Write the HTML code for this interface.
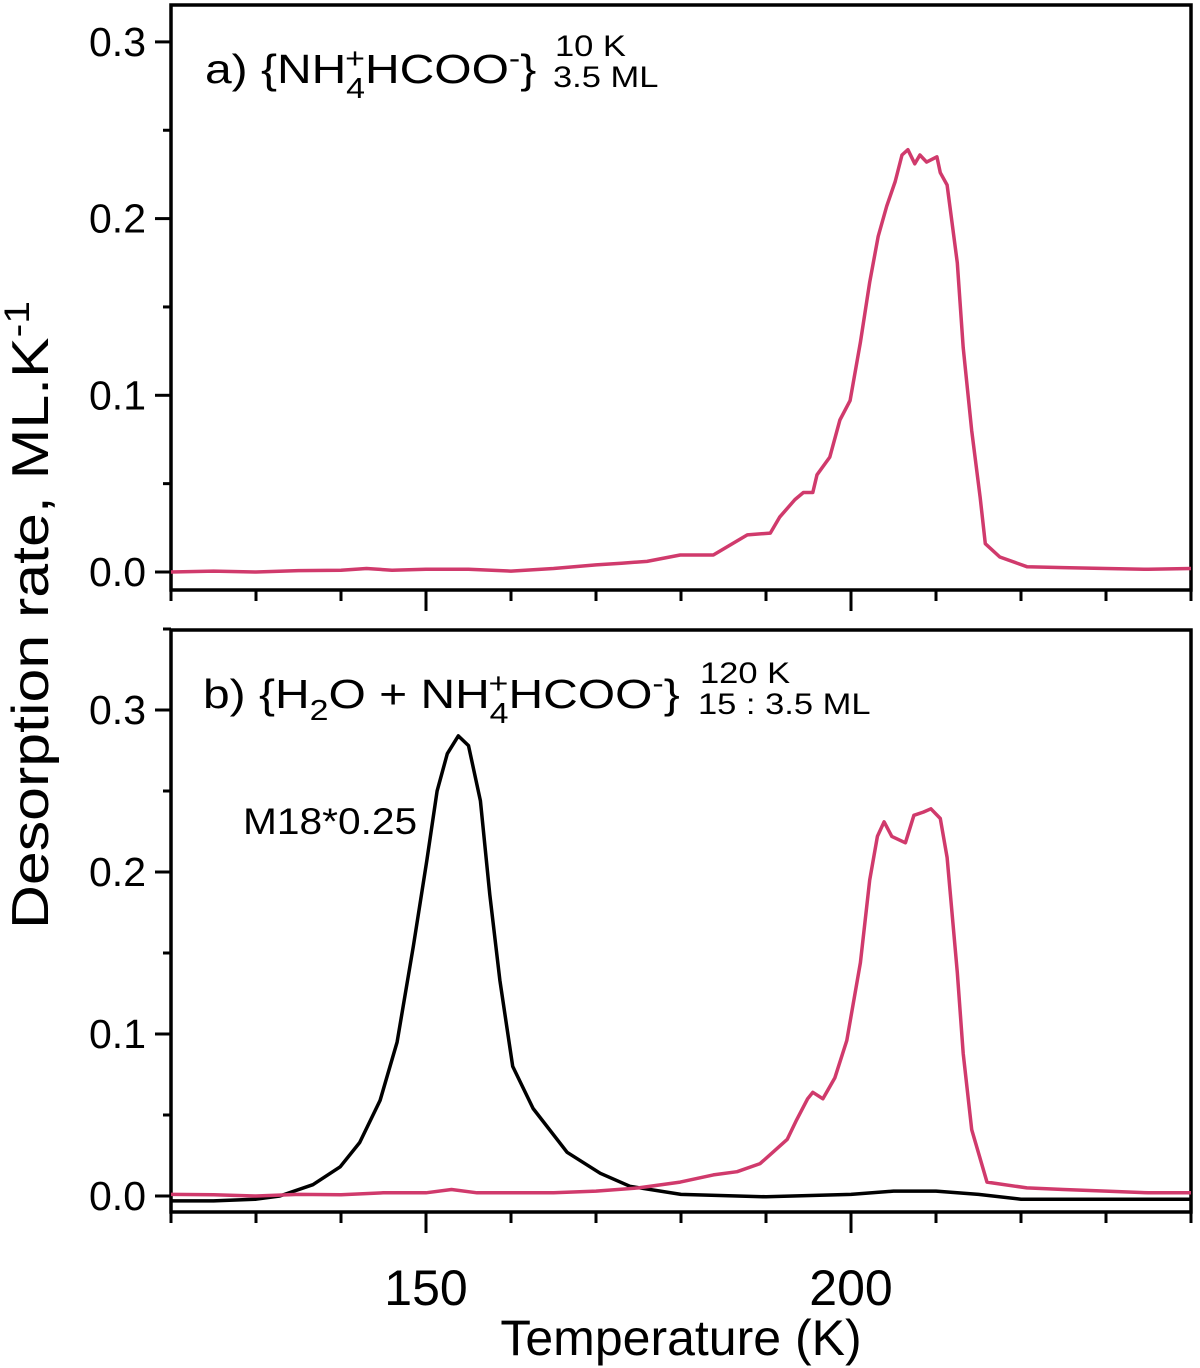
<!DOCTYPE html>
<html><head><meta charset="utf-8">
<style>
html,body{margin:0;padding:0;background:#fff;}
svg{display:block;font-family:"Liberation Sans",Arial,sans-serif;}
</style></head>
<body>
<svg id="chart" width="1200" height="1368" viewBox="0 0 1200 1368" xmlns="http://www.w3.org/2000/svg"></svg>
<script>
// ---- data ----
const xTicksMajor = [150, 200];
const xTicksMinor = [120,130,140,160,170,180,190,210,220,230,240];
const xTickLabels = ["150", "200"];
const yTicksMajorA = [0.0, 0.1, 0.2, 0.3];
const yTickLabelsA = ["0.0", "0.1", "0.2", "0.3"];
const yTicksMinorA = [0.05, 0.15, 0.25];
const yTicksMajorB = [0.0, 0.1, 0.2, 0.3];
const yTickLabelsB = ["0.0", "0.1", "0.2", "0.3"];
const yTicksMinorB = [0.05, 0.15, 0.25, 0.35];

const tempA = [120,125,130,135,140,143,146,150,155,160,165,170,173,176,179.9,183.8,187.8,190.5,191.6,193.4,194.4,195.5,196.0,197.5,198.7,199.9,201.1,202.2,203.2,204.2,205.2,206.0,206.7,207.5,208.1,208.9,210.1,210.5,211.3,212.5,213.2,214.2,215.2,215.8,217.5,220.7,225,230,235,240];
const rateA = [0.0,0.0005,0.0,0.0008,0.001,0.002,0.001,0.0015,0.0015,0.0005,0.002,0.004,0.005,0.006,0.0096,0.0096,0.021,0.022,0.031,0.041,0.045,0.045,0.055,0.065,0.086,0.097,0.130,0.164,0.190,0.207,0.221,0.236,0.239,0.231,0.236,0.232,0.235,0.226,0.219,0.175,0.127,0.080,0.042,0.016,0.0085,0.003,0.0025,0.002,0.0015,0.002];

const tempBpink = [120,125,130,135,140,145,150,153,156,160,165,170,175,179.9,183.8,186.6,189.3,190.8,192.5,193.6,194.9,195.5,196.7,198.1,199.5,201.1,202.2,203.1,203.9,204.8,206.4,207.4,208.5,209.4,210.5,211.3,212.5,213.2,214.2,216.0,220.7,225,230,235,240];
const rateBpink = [0.001,0.0008,0.0,0.001,0.0008,0.002,0.002,0.004,0.002,0.002,0.002,0.003,0.005,0.0086,0.013,0.015,0.020,0.027,0.035,0.047,0.060,0.064,0.060,0.073,0.096,0.144,0.195,0.222,0.231,0.222,0.218,0.235,0.237,0.239,0.233,0.209,0.138,0.088,0.041,0.0086,0.005,0.004,0.003,0.002,0.002];

const tempBblack = [120,125,130,132.8,136.7,139.9,142.2,144.6,146.6,148.5,150.1,151.3,152.5,153.8,155.0,156.4,157.5,158.7,160.2,162.6,166.6,170.5,174.0,180,190,200,205,210,215,220,230,240];
const rateBblack = [-0.003,-0.003,-0.002,0.0,0.007,0.018,0.033,0.059,0.095,0.154,0.207,0.250,0.273,0.284,0.278,0.244,0.186,0.133,0.080,0.054,0.027,0.014,0.006,0.001,-0.0005,0.001,0.003,0.003,0.001,-0.002,-0.002,-0.002];

// ---- layout ----
const NS = "http://www.w3.org/2000/svg";
const svg = document.getElementById("chart");
const X0 = 171, X1 = 1191, TMIN = 120, TMAX = 240;
function xs(t){ return X0 + (t - TMIN) * (X1 - X0) / (TMAX - TMIN); }
const panA = {top:5, bottom:590, y0:572, k:1767};
const panB = {top:630, bottom:1212, y0:1196, k:1620};
function ysA(v){ return panA.y0 - v * panA.k; }
function ysB(v){ return panB.y0 - v * panB.k; }

function el(tag, attrs, parent){
  const e = document.createElementNS(NS, tag);
  for (const k in attrs) e.setAttribute(k, attrs[k]);
  (parent || svg).appendChild(e);
  return e;
}

function drawPanel(p, ys, majors, labels, minors, name){
  const g = el("g", {});
  
  
  const frame = el("rect", {x:X0, y:p.top, width:X1-X0, height:p.bottom-p.top, fill:"none", stroke:"#000", "stroke-width":3.5}, g);
  
  
  majors.forEach((v,i) => {
    const y = ys(v);
    const t = el("line", {x1:X0-16, x2:X0, y1:y, y2:y, stroke:"#000", "stroke-width":3}, g);
    
    
    const tx = el("text", {x:146, y:y+14, "text-anchor":"end", "font-size":41, fill:"#000"}, g);
    tx.textContent = labels[i];
    
    
  });
  minors.forEach(v => {
    const y = ys(v);
    const t = el("line", {x1:X0-8, x2:X0, y1:y, y2:y, stroke:"#000", "stroke-width":3}, g);
    
    
  });
  xTicksMajor.forEach(t => {
    const l = el("line", {x1:xs(t), x2:xs(t), y1:p.bottom, y2:p.bottom+21, stroke:"#000", "stroke-width":3}, g);
    
    
  });
  xTicksMinor.forEach(t => {
    const l = el("line", {x1:xs(t), x2:xs(t), y1:p.bottom, y2:p.bottom+11, stroke:"#000", "stroke-width":3}, g);
    
    
  });
  return g;
}

function drawLine(ts, vs, ys, color, name){
  const d = ts.map((t,i) => (i? "L":"M") + xs(t).toFixed(1) + "," + ys(vs[i]).toFixed(1)).join(" ");
  const p = el("path", {d:d, fill:"none", stroke:color, "stroke-width":3.5, "stroke-linejoin":"round"});
  
  
}

drawPanel(panA, ysA, yTicksMajorA, yTickLabelsA, yTicksMinorA, 'panel-a');
drawPanel(panB, ysB, yTicksMajorB, yTickLabelsB, yTicksMinorB, 'panel-b');
drawLine(tempA, rateA, ysA, "#d03a6c", 'series-a-formate');
drawLine(tempBblack, rateBblack, ysB, "#000", 'series-b-water-m18');
drawLine(tempBpink, rateBpink, ysB, "#d03a6c", 'series-b-formate');

xTicksMajor.forEach((t,i) => {
  const tx = el("text", {x:xs(t), y:1305, "text-anchor":"middle", "font-size":50, fill:"#000"});
  tx.textContent = xTickLabels[i];
  
  
});
</script>
<svg style="position:absolute;left:0;top:0" width="1200" height="1368" font-family="Liberation Sans, Arial, sans-serif">
  <g transform="translate(205,83) scale(1.17,1)">
    <text x="0" y="0" font-size="41">a) {NH<tspan font-size="29" dy="-15" dx="-1">+</tspan><tspan font-size="29" dy="30" dx="-16">4</tspan><tspan dy="-15">HCOO</tspan><tspan font-size="29" dy="-15">-</tspan><tspan dy="15">}</tspan></text>
  </g>
  <g transform="translate(555,56) scale(1.15,1)">
    <text x="0" y="0" font-size="30">10 K</text>
  </g>
  <g transform="translate(553,87) scale(1.15,1)">
    <text x="0" y="0" font-size="30">3.5 ML</text>
  </g>
  <g transform="translate(203,708) scale(1.17,1)">
    <text x="0" y="0" font-size="41">b) {H<tspan font-size="29" dy="12">2</tspan><tspan dy="-12">O + NH</tspan><tspan font-size="29" dy="-15" dx="-1">+</tspan><tspan font-size="29" dy="30" dx="-16">4</tspan><tspan dy="-15">HCOO</tspan><tspan font-size="29" dy="-15">-</tspan><tspan dy="15">}</tspan></text>
  </g>
  <g transform="translate(700,683) scale(1.15,1)">
    <text x="0" y="0" font-size="30">120 K</text>
  </g>
  <g transform="translate(698,714) scale(1.15,1)">
    <text x="0" y="0" font-size="30">15 : 3.5 ML</text>
  </g>
  <g transform="translate(243,834) scale(1.1,1)">
    <text x="0" y="0" font-size="37">M18*0.25</text>
  </g>
  <text x="681" y="1355" text-anchor="middle" font-size="50">Temperature (K)</text>
  <g transform="translate(48,615) rotate(-90) scale(1.17,1)">
    <text x="0" y="0" text-anchor="middle" font-size="52">Desorption rate, ML.K<tspan font-size="35" dy="-19">-1</tspan></text>
  </g>
</svg>
</body></html>
